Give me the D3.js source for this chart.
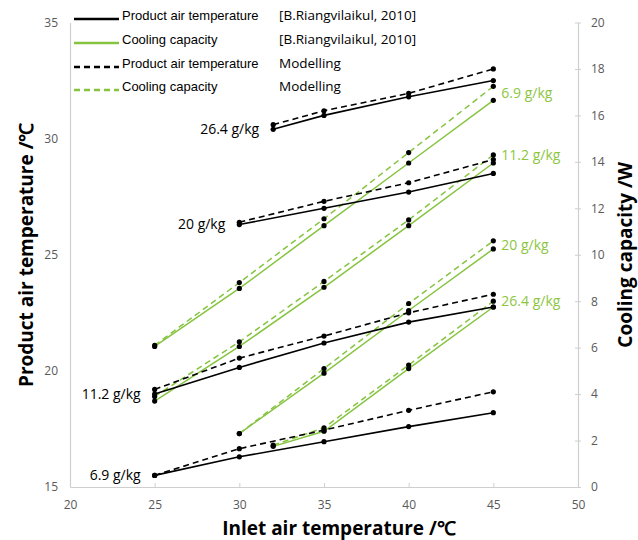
<!DOCTYPE html>
<html>
<head>
<meta charset="utf-8">
<script src="https://cdn.jsdelivr.net/npm/d3@7"></script>
<style>
  html, body { margin: 0; padding: 0; background: #fff; }
  svg { display: block; }
</style>
</head>
<body>
<svg id="chart" width="638" height="540"></svg>
<script>
// Inlet air temperatures for each humidity-ratio series
const xFull = [25, 30, 35, 40, 45];
const x20 = [30, 35, 40, 45];
const x264 = [32, 35, 40, 45];

// Product air temperature, experiment [B.Riangvilaikul, 2010]
const tempExp69 = [15.5, 16.3, 16.95, 17.6, 18.2];
const tempExp112 = [19.0, 20.15, 21.2, 22.1, 22.75];
const tempExp20 = [26.3, 27.0, 27.7, 28.5];
const tempExp264 = [30.4, 31.0, 31.8, 32.5];

// Product air temperature, modelling
const tempMod69 = [15.5, 16.65, 17.45, 18.3, 19.1];
const tempMod112 = [19.2, 20.55, 21.5, 22.5, 23.3];
const tempMod20 = [26.4, 27.3, 28.1, 29.1];
const tempMod264 = [30.6, 31.2, 31.95, 33.0];

// Cooling capacity, experiment [B.Riangvilaikul, 2010]
const capExp69 = [6.05, 8.55, 11.25, 13.95, 16.65];
const capExp112 = [3.7, 6.05, 8.6, 11.25, 13.95];
const capExp20 = [2.3, 4.9, 7.6, 10.25];
const capExp264 = [1.75, 2.4, 5.1, 7.75];

// Cooling capacity, modelling
const capMod69 = [6.1, 8.8, 11.55, 14.4, 17.25];
const capMod112 = [3.9, 6.25, 8.85, 11.5, 14.3];
const capMod20 = [2.3, 5.1, 7.9, 10.6];
const capMod264 = [1.8, 2.55, 5.25, 8.0];

// Axis ticks
const xTicks = [20, 25, 30, 35, 40, 45, 50];
const leftTicks = [15, 20, 25, 30, 35];
const rightTicks = [0, 2, 4, 6, 8, 10, 12, 14, 16, 18, 20];

// Series labels
const humidityLabels = ["6.9 g/kg", "11.2 g/kg", "20 g/kg", "26.4 g/kg"];

const BLACK = "#000000";
const GREEN = "#86c440";
const GREEN_TEXT = "#8cc63f";
const AXIS = "#cfcfcf";
const TICK_TEXT = "#595959";
const LABEL_FONT = "'Open Sans', sans-serif";

const svg = d3.select("#chart");

const x = d3.scaleLinear().domain([20, 50]).range([70, 578]);
const yL = d3.scaleLinear().domain([15, 35]).range([487, 22.5]);
const yR = d3.scaleLinear().domain([0, 20]).range([487, 22.5]);

// ---- Axes ----
const xAxis = svg.append("g")
  .attr("transform", `translate(0,${yL(15)})`)
  .call(d3.axisBottom(x).tickValues(xTicks).tickSizeInner(-4).tickSizeOuter(0).tickPadding(13));

const leftAxis = svg.append("g")
  .attr("transform", `translate(${x(20)},0)`)
  .call(d3.axisLeft(yL).tickValues(leftTicks).tickSize(0).tickPadding(12));

const rightAxis = svg.append("g")
  .attr("transform", `translate(${x(50)},0)`)
  .call(d3.axisRight(yR).tickValues(rightTicks).tickSizeInner(3).tickSizeOuter(0).tickPadding(10));
rightAxis.selectAll(".tick line").attr("x1", -3);

[xAxis, leftAxis, rightAxis].forEach(g => {
  g.select(".domain").attr("stroke", AXIS).attr("stroke-width", 1.2);
  g.selectAll(".tick line").attr("stroke", AXIS).attr("stroke-width", 1);
  g.selectAll(".tick text")
    .attr("fill", TICK_TEXT)
    .style("font-family", LABEL_FONT)
    .style("font-size", "12px");
});

// ---- Axis titles ----
svg.append("text")
  .attr("x", 339).attr("y", 535)
  .attr("text-anchor", "middle")
  .style("font-family", LABEL_FONT).style("font-weight", "bold").style("font-size", "19px")
  .attr("fill", "#000")
  .text("Inlet air temperature /℃");

svg.append("text")
  .attr("transform", `translate(33,${(yL(15) + yL(35)) / 2}) rotate(-90)`)
  .attr("text-anchor", "middle")
  .style("font-family", LABEL_FONT).style("font-weight", "bold").style("font-size", "19px")
  .attr("fill", "#000")
  .text("Product air temperature /℃");

svg.append("text")
  .attr("transform", `translate(632,${(yR(0) + yR(20)) / 2}) rotate(-90)`)
  .attr("text-anchor", "middle")
  .style("font-family", LABEL_FONT).style("font-weight", "bold").style("font-size", "19px")
  .attr("fill", "#000")
  .text("Cooling capacity /W");

// ---- Series ----
const series = [
  // cooling capacity first so black lines sit on top
  { xs: xFull, ys: capExp69, scale: yR, color: GREEN, dash: null },
  { xs: xFull, ys: capExp112, scale: yR, color: GREEN, dash: null },
  { xs: x20, ys: capExp20, scale: yR, color: GREEN, dash: null },
  { xs: x264, ys: capExp264, scale: yR, color: GREEN, dash: null },
  { xs: xFull, ys: capMod69, scale: yR, color: GREEN, dash: "6,4" },
  { xs: xFull, ys: capMod112, scale: yR, color: GREEN, dash: "6,4" },
  { xs: x20, ys: capMod20, scale: yR, color: GREEN, dash: "6,4" },
  { xs: x264, ys: capMod264, scale: yR, color: GREEN, dash: "6,4" },
  { xs: xFull, ys: tempExp69, scale: yL, color: BLACK, dash: null },
  { xs: xFull, ys: tempExp112, scale: yL, color: BLACK, dash: null },
  { xs: x20, ys: tempExp20, scale: yL, color: BLACK, dash: null },
  { xs: x264, ys: tempExp264, scale: yL, color: BLACK, dash: null },
  { xs: xFull, ys: tempMod69, scale: yL, color: BLACK, dash: "6,4" },
  { xs: xFull, ys: tempMod112, scale: yL, color: BLACK, dash: "6,4" },
  { xs: x20, ys: tempMod20, scale: yL, color: BLACK, dash: "6,4" },
  { xs: x264, ys: tempMod264, scale: yL, color: BLACK, dash: "6,4" }
];

const plot = svg.append("g");
series.forEach(s => {
  const pts = s.xs.map((v, i) => [v, s.ys[i]]);
  const line = d3.line().x(d => x(d[0])).y(d => s.scale(d[1]));
  plot.append("path")
    .attr("d", line(pts))
    .attr("fill", "none")
    .attr("stroke", s.color)
    .attr("stroke-width", s.color === BLACK ? 1.6 : 1.5)
    .attr("stroke-dasharray", s.dash);
});
series.forEach(s => {
  plot.selectAll(null)
    .data(s.xs.map((v, i) => [v, s.ys[i]]))
    .enter().append("circle")
    .attr("cx", d => x(d[0]))
    .attr("cy", d => s.scale(d[1]))
    .attr("r", 2.6)
    .attr("fill", "#000");
});

// ---- Humidity labels ----
const tempLabelPos = [
  { text: humidityLabels[0], xv: xFull[0], yv: tempExp69[0] },
  { text: humidityLabels[1], xv: xFull[0], yv: tempExp112[0] },
  { text: humidityLabels[2], xv: x20[0], yv: tempExp20[0] },
  { text: humidityLabels[3], xv: x264[0], yv: tempExp264[0] }
];
tempLabelPos.forEach(l => {
  svg.append("text")
    .attr("x", x(l.xv) - 14)
    .attr("y", yL(l.yv))
    .attr("dy", "0.35em")
    .attr("text-anchor", "end")
    .style("font-family", LABEL_FONT).style("font-size", "14px")
    .attr("fill", "#000")
    .text(l.text);
});

const capLabelPos = [
  { text: humidityLabels[0], yv: (capExp69[4] + capMod69[4]) / 2 },
  { text: humidityLabels[1], yv: capMod112[4] },
  { text: humidityLabels[2], yv: (capExp20[3] + capMod20[3]) / 2 },
  { text: humidityLabels[3], yv: capMod264[3] }
];
capLabelPos.forEach(l => {
  svg.append("text")
    .attr("x", x(45) + 8)
    .attr("y", yR(l.yv))
    .attr("dy", "0.35em")
    .style("font-family", LABEL_FONT).style("font-size", "14px")
    .attr("fill", GREEN_TEXT)
    .text(l.text);
});

// ---- Legend ----
const legendRows = [
  { color: BLACK, dash: null, name: "Product air temperature", src: "[B.Riangvilaikul, 2010]", y: 19 },
  { color: GREEN, dash: null, name: "Cooling capacity", src: "[B.Riangvilaikul, 2010]", y: 43 },
  { color: BLACK, dash: "6,4", name: "Product air temperature", src: "Modelling", y: 67 },
  { color: GREEN, dash: "6,4", name: "Cooling capacity", src: "Modelling", y: 90 }
];
const legend = svg.append("g");
legendRows.forEach(r => {
  legend.append("line")
    .attr("x1", 74).attr("x2", 119)
    .attr("y1", r.y).attr("y2", r.y)
    .attr("stroke", r.color)
    .attr("stroke-width", 2.4)
    .attr("stroke-dasharray", r.dash);
  legend.append("text")
    .attr("x", 122).attr("y", r.y - 4)
    .attr("dy", "0.35em")
    .style("font-family", "'Liberation Sans', Arial, sans-serif").style("font-size", "13px")
    .attr("fill", "#000")
    .text(r.name);
  legend.append("text")
    .attr("x", 279).attr("y", r.y - 4)
    .attr("dy", "0.35em")
    .style("font-family", LABEL_FONT).style("font-size", "13.5px")
    .attr("fill", "#000")
    .text(r.src);
});
</script>
</body>
</html>
